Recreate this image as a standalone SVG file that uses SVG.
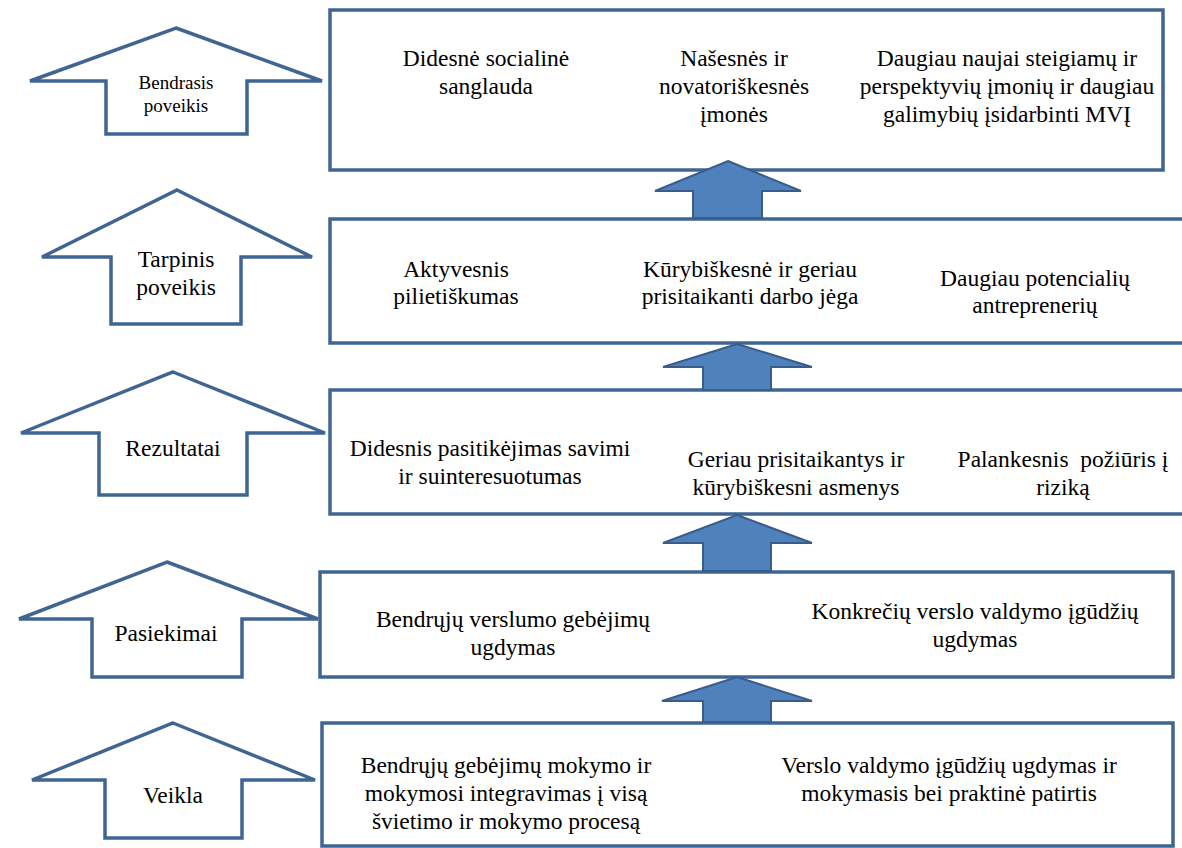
<svg xmlns="http://www.w3.org/2000/svg" width="1182" height="848" viewBox="0 0 1182 848">
  <style>
    .box { fill: #ffffff; stroke: #3f6592; stroke-width: 3.5; }
    .stage { fill: #ffffff; stroke: #3f6592; stroke-width: 3.5; stroke-linejoin: miter; }
    .flow { fill: #4f81bd; stroke: #385d8a; stroke-width: 2; stroke-linejoin: miter; }
    .t { font-size: 23.5px; }
    .lbl { font-size: 23.5px; }
    .lbl-s { font-size: 19px; }
  </style>

  <g font-family="'Liberation Serif', 'DejaVu Serif', serif" text-anchor="middle" fill="#000000">
  <!-- Stage labels (hollow up-arrows on the left) -->
  <g id="stage-bendrasis">
    <polygon class="stage" points="176,28 322,81 247,81 247,134 106,134 106,81 30,81"/>
    <text class="lbl-s" x="176" y="89">Bendrasis</text>
    <text class="lbl-s" x="176" y="112">poveikis</text>
  </g>
  <g id="stage-tarpinis">
    <polygon class="stage" points="177,190 312,257 241,257 241,324 111,324 111,257 42,257"/>
    <text class="lbl" x="176" y="267">Tarpinis</text>
    <text class="lbl" x="176" y="295">poveikis</text>
  </g>
  <g id="stage-rezultatai">
    <polygon class="stage" points="173,372 325,433 247,433 247,495 99,495 99,433 21,433"/>
    <text class="lbl" x="173" y="456">Rezultatai</text>
  </g>
  <g id="stage-pasiekimai">
    <polygon class="stage" points="167,562 318,619 242,619 242,677 92,677 92,619 19,619"/>
    <text class="lbl" x="166" y="641">Pasiekimai</text>
  </g>
  <g id="stage-veikla">
    <polygon class="stage" points="173,723 315,780 242,780 242,838 105,838 105,780 32,780"/>
    <text class="lbl" x="173" y="803">Veikla</text>
  </g>

  <!-- Content boxes -->
  <g id="box-impact">
    <rect class="box" x="330" y="10" width="833" height="160"/>
    <text class="t" x="486" y="66">Didesnė socialinė</text>
    <text class="t" x="486" y="94">sanglauda</text>
    <text class="t" x="734" y="66">Našesnės ir</text>
    <text class="t" x="734" y="94">novatoriškesnės</text>
    <text class="t" x="734" y="122">įmonės</text>
    <text class="t" x="1007" y="66">Daugiau naujai steigiamų ir</text>
    <text class="t" x="1007" y="94">perspektyvių įmonių ir daugiau</text>
    <text class="t" x="1007" y="122">galimybių įsidarbinti MVĮ</text>
  </g>
  <g id="box-intermediate">
    <rect class="box" x="330" y="219" width="854" height="124"/>
    <text class="t" x="456" y="277">Aktyvesnis</text>
    <text class="t" x="456" y="304">pilietiškumas</text>
    <text class="t" x="750" y="277">Kūrybiškesnė ir geriau</text>
    <text class="t" x="750" y="304">prisitaikanti darbo jėga</text>
    <text class="t" x="1035" y="286">Daugiau potencialių</text>
    <text class="t" x="1035" y="313">antreprenerių</text>
  </g>
  <g id="box-results">
    <rect class="box" x="330" y="390" width="854" height="124"/>
    <text class="t" x="490" y="456">Didesnis pasitikėjimas savimi</text>
    <text class="t" x="490" y="484">ir suinteresuotumas</text>
    <text class="t" x="796" y="467">Geriau prisitaikantys ir</text>
    <text class="t" x="796" y="495">kūrybiškesni asmenys</text>
    <text class="t" x="1063" y="467" xml:space="preserve">Palankesnis  požiūris į</text>
    <text class="t" x="1063" y="495">riziką</text>
  </g>
  <g id="box-outputs">
    <rect class="box" x="320" y="572" width="853" height="105"/>
    <text class="t" x="513" y="627">Bendrųjų verslumo gebėjimų</text>
    <text class="t" x="513" y="655">ugdymas</text>
    <text class="t" x="975" y="619">Konkrečių verslo valdymo įgūdžių</text>
    <text class="t" x="975" y="647">ugdymas</text>
  </g>
  <g id="box-activities">
    <rect class="box" x="322" y="723" width="851" height="123"/>
    <text class="t" x="506" y="773">Bendrųjų gebėjimų mokymo ir</text>
    <text class="t" x="506" y="801">mokymosi integravimas į visą</text>
    <text class="t" x="506" y="829">švietimo ir mokymo procesą</text>
    <text class="t" x="949" y="773">Verslo valdymo įgūdžių ugdymas ir</text>
    <text class="t" x="949" y="801">mokymasis bei praktinė patirtis</text>
  </g>
  </g>

  <!-- Solid block arrows linking the levels -->
  <g id="connectors">
    <polygon class="flow" points="728,161 801,191 762,191 762,218 693,218 693,191 655,191"/>
    <polygon class="flow" points="737,344 812,367 771,367 771,390 703,390 703,367 663,367"/>
    <polygon class="flow" points="737,515 812,543 771,543 771,571 703,571 703,543 663,543"/>
    <polygon class="flow" points="737,677 812,701 771,701 771,722 703,722 703,701 662,701"/>
  </g>
</svg>
